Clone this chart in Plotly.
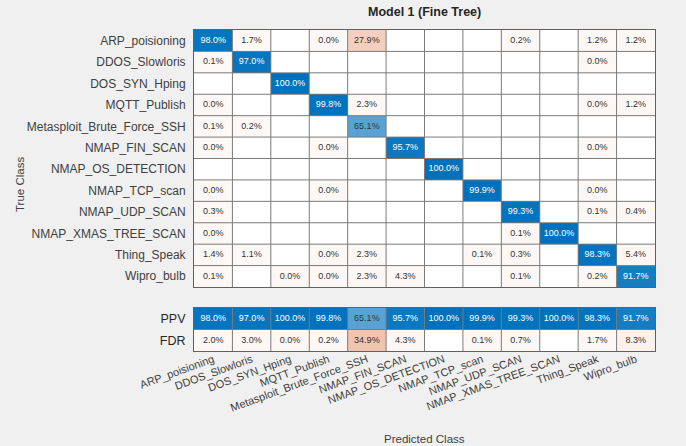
import numpy as np
import plotly.graph_objects as go

# Class names (true rows / predicted columns)
classes = [
    "ARP_poisioning", "DDOS_Slowloris", "DOS_SYN_Hping", "MQTT_Publish",
    "Metasploit_Brute_Force_SSH", "NMAP_FIN_SCAN", "NMAP_OS_DETECTION",
    "NMAP_TCP_scan", "NMAP_UDP_SCAN", "NMAP_XMAS_TREE_SCAN",
    "Thing_Speak", "Wipro_bulb",
]

# Column-normalised confusion matrix in percent (None = no samples)
N = None
cm = [
    [98.0, 1.7, N, 0.0, 27.9, N, N, N, 0.2, N, 1.2, 1.2],
    [0.1, 97.0, N, N, N, N, N, N, N, N, 0.0, N],
    [N, N, 100.0, N, N, N, N, N, N, N, N, N],
    [0.0, N, N, 99.8, 2.3, N, N, N, N, N, 0.0, 1.2],
    [0.1, 0.2, N, N, 65.1, N, N, N, N, N, N, N],
    [0.0, N, N, 0.0, N, 95.7, N, N, N, N, 0.0, N],
    [N, N, N, N, N, N, 100.0, N, N, N, N, N],
    [0.0, N, N, 0.0, N, N, N, 99.9, N, N, 0.0, N],
    [0.3, N, N, N, N, N, N, N, 99.3, N, 0.1, 0.4],
    [0.0, N, N, N, N, N, N, N, 0.1, 100.0, N, N],
    [1.4, 1.1, N, 0.0, 2.3, N, N, 0.1, 0.3, N, 98.3, 5.4],
    [0.1, N, 0.0, 0.0, 2.3, 4.3, N, N, 0.1, N, 0.2, 91.7],
]

# Column summary: positive predictive value / false discovery rate
ppv = [98.0, 97.0, 100.0, 99.8, 65.1, 95.7, 100.0, 99.9, 99.3, 100.0, 98.3, 91.7]
fdr = [2.0, 3.0, 0.0, 0.2, 34.9, 4.3, N, 0.1, 0.7, N, 1.7, 8.3]
summary_labels = ["PPV", "FDR"]

DIAG = "#0072BD"
OFF = "#D95319"
FONT = "Liberation Sans, Arial, sans-serif"
W, H = 686, 446

# Diverging colour index: positive = correct (blue), negative = error (orange)
colorscale = [[0.0, OFF], [0.5, "#FFFFFF"], [1.0, DIAG]]


def shade(v, good):
    if v is None:
        return np.nan
    return v if good else -max(v, 4.0)


def txt_color(v, good):
    return "#FFFFFF" if (good and v >= 80) else "#333333"


n = len(classes)
z_main = [[shade(cm[r][c], r == c) for c in range(n)] for r in range(n)]
z_sum = [[shade(v, True) for v in ppv], [shade(v, False) for v in fdr]]

# text positions for cell labels
mx, my, mt, mc = [], [], [], []
for r in range(n):
    for c in range(n):
        v = cm[r][c]
        if v is not None:
            mx.append(c); my.append(r); mt.append(f"{v:.1f}%")
            mc.append(txt_color(v, r == c))
sx, sy, st, sc = [], [], [], []
for r, row in enumerate([ppv, fdr]):
    for c, v in enumerate(row):
        if v is not None:
            sx.append(c); sy.append(r); st.append(f"{v:.1f}%")
            sc.append(txt_color(v, r == 0))

fig = go.Figure()
fig.add_trace(go.Heatmap(z=z_main, x=list(range(n)), y=list(range(n)),
                         colorscale=colorscale, zmin=-100, zmax=100,
                         showscale=False, hoverinfo="skip",
                         xaxis="x", yaxis="y"))
fig.add_trace(go.Scatter(x=mx, y=my, text=mt, mode="text",
                         textfont=dict(size=9, color=mc, family=FONT),
                         hoverinfo="skip", showlegend=False,
                         xaxis="x", yaxis="y"))
fig.add_trace(go.Heatmap(z=z_sum, x=list(range(n)), y=[0, 1],
                         colorscale=colorscale, zmin=-100, zmax=100,
                         showscale=False, hoverinfo="skip",
                         xaxis="x2", yaxis="y2"))
fig.add_trace(go.Scatter(x=sx, y=sy, text=st, mode="text",
                         textfont=dict(size=9, color=sc, family=FONT),
                         hoverinfo="skip", showlegend=False,
                         xaxis="x2", yaxis="y2"))

# cell borders
shapes = []
for k in range(1, n):
    shapes.append(dict(type="line", xref="x", yref="y", x0=k - 0.5, x1=k - 0.5,
                       y0=-0.5, y1=n - 0.5, line=dict(color="#7a7a7a", width=1)))
    shapes.append(dict(type="line", xref="x", yref="y", x0=-0.5, x1=n - 0.5,
                       y0=k - 0.5, y1=k - 0.5, line=dict(color="#7a7a7a", width=1)))
    shapes.append(dict(type="line", xref="x2", yref="y2", x0=k - 0.5, x1=k - 0.5,
                       y0=-0.5, y1=1.5, line=dict(color="#7a7a7a", width=1)))
shapes.append(dict(type="line", xref="x2", yref="y2", x0=-0.5, x1=n - 0.5,
                   y0=0.5, y1=0.5, line=dict(color="#7a7a7a", width=1)))


def px_x(p):
    return p / W


def px_y(p):
    return 1 - p / H


xdom = [px_x(194), px_x(655)]
frame = dict(showline=True, mirror=True, linecolor="#606060", linewidth=1,
             showgrid=False, zeroline=False, fixedrange=True)

fig.update_layout(
    width=W, height=H,
    margin=dict(l=0, r=0, t=0, b=0),
    paper_bgcolor="#F0F0F0", plot_bgcolor="#FFFFFF",
    font=dict(family=FONT, color="#404040"),
    showlegend=False,
    shapes=shapes,
    xaxis=dict(domain=xdom, anchor="y", range=[-0.5, n - 0.5],
               showticklabels=False, ticks="", **frame),
    yaxis=dict(domain=[px_y(287), px_y(30)], anchor="x",
               range=[n - 0.5, -0.5], tickmode="array",
               tickvals=list(range(n)), ticktext=classes, ticks="outside",
               ticklen=5, tickcolor="rgba(0,0,0,0)",
               tickfont=dict(size=12, color="#404040"), automargin=False,
               **frame),
    xaxis2=dict(domain=xdom, anchor="y2", range=[-0.5, n - 0.5],
                tickmode="array", tickvals=list(range(n)), ticktext=classes,
                tickangle=-20, ticks="", ticklabelstandoff=-3,
                tickfont=dict(size=11, color="#404040"), automargin=False,
                **frame),
    yaxis2=dict(domain=[px_y(351), px_y(308)], anchor="x2",
                range=[1.5, -0.5], tickmode="array", tickvals=[0, 1],
                ticktext=summary_labels, ticks="outside", ticklen=5,
                tickcolor="rgba(0,0,0,0)",
                tickfont=dict(size=12.5, color="#262626"), automargin=False,
                **frame),
    annotations=[
        dict(text="<b>Model 1 (Fine Tree)</b>", x=px_x(424.5), y=px_y(12),
             xref="paper", yref="paper", xanchor="center", yanchor="middle",
             showarrow=False, font=dict(size=12.5, color="#262626")),
        dict(text="True Class", x=px_x(20), y=px_y(185), xref="paper",
             yref="paper", xanchor="center", yanchor="middle",
             showarrow=False, textangle=-90,
             font=dict(size=11.5, color="#404040")),
        dict(text="Predicted Class", x=px_x(424.5), y=px_y(439), xref="paper",
             yref="paper", xanchor="center", yanchor="middle",
             showarrow=False, font=dict(size=11.5, color="#404040")),
    ],
)

fig.write_html("out.html")
